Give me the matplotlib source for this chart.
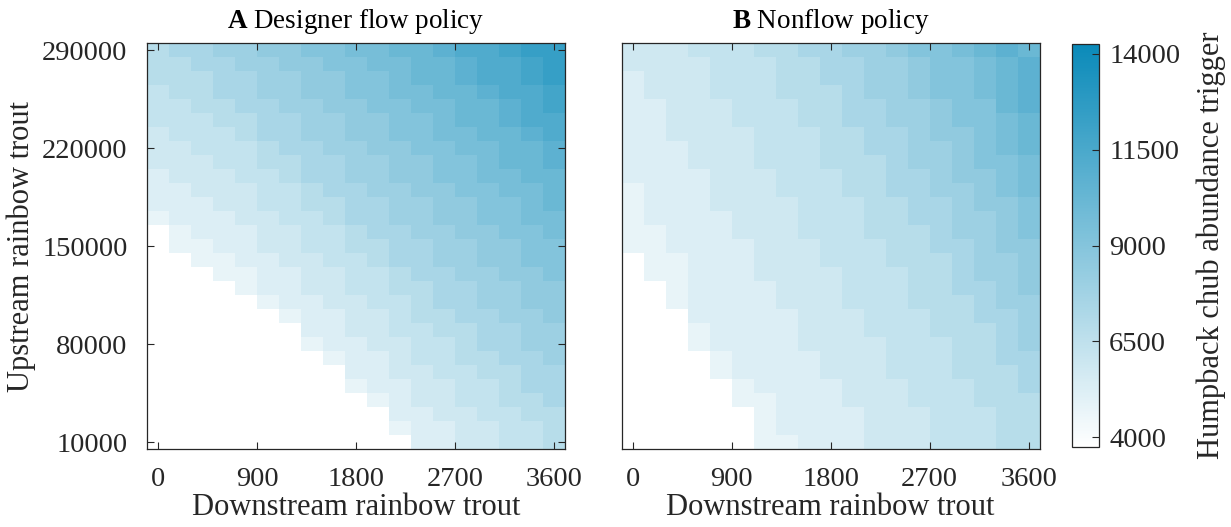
import numpy as np
import matplotlib.pyplot as plt
from matplotlib.colors import LinearSegmentedColormap

plt.rcParams['font.family'] = 'Liberation Serif'
plt.rcParams['mathtext.fontset'] = 'custom'
plt.rcParams['mathtext.rm'] = 'Liberation Serif'
plt.rcParams['mathtext.bf'] = 'Liberation Serif:bold'
plt.rcParams['font.size'] = 20.5

# grid of the two heatmaps
downstream = list(range(0, 3601, 200))          # 19 columns
upstream = list(range(290000, 9999, -10000))    # 29 rows, top row first

# trigger value for each colour step (0 = white, no trigger)
trigger_steps = [np.nan, 4750, 5250, 5800, 6300, 6850, 7400, 7950, 8500,
                 9050, 9600, 10150, 10700, 11250, 11800, 12350]

# each column (downstream value) as runs of (step, number of rows) from top to bottom
designer_runs = [
    [(5, 3), (4, 3), (3, 3), (2, 3), (1, 1), (0, 16)],
    [(6, 1), (5, 3), (4, 3), (3, 3), (2, 3), (1, 2), (0, 14)],
    [(6, 2), (5, 3), (4, 3), (3, 3), (2, 3), (1, 2), (0, 13)],
    [(7, 1), (6, 3), (5, 2), (4, 3), (3, 3), (2, 3), (1, 2), (0, 12)],
    [(7, 2), (6, 3), (5, 2), (4, 3), (3, 3), (2, 3), (1, 2), (0, 11)],
    [(8, 1), (7, 3), (6, 3), (5, 2), (4, 3), (3, 3), (2, 3), (1, 1), (0, 10)],
    [(8, 2), (7, 3), (6, 3), (5, 2), (4, 3), (3, 3), (2, 3), (1, 1), (0, 9)],
    [(9, 1), (8, 3), (7, 3), (6, 3), (5, 2), (4, 3), (3, 3), (2, 3), (1, 1), (0, 7)],
    [(9, 2), (8, 3), (7, 3), (6, 3), (5, 2), (4, 3), (3, 3), (2, 3), (1, 1), (0, 6)],
    [(10, 1), (9, 3), (8, 3), (7, 3), (6, 3), (5, 2), (4, 3), (3, 3), (2, 3), (1, 1), (0, 4)],
    [(10, 2), (9, 3), (8, 3), (7, 3), (6, 3), (5, 2), (4, 3), (3, 3), (2, 3), (1, 1), (0, 3)],
    [(11, 1), (10, 3), (9, 3), (8, 3), (7, 3), (6, 3), (5, 2), (4, 3), (3, 3), (2, 3), (1, 1), (0, 1)],
    [(11, 3), (10, 2), (9, 3), (8, 3), (7, 3), (6, 3), (5, 3), (4, 3), (3, 3), (2, 3)],
    [(12, 1), (11, 3), (10, 3), (9, 3), (8, 3), (7, 3), (6, 3), (5, 2), (4, 3), (3, 3), (2, 2)],
    [(13, 1), (12, 2), (11, 3), (10, 2), (9, 3), (8, 3), (7, 3), (6, 3), (5, 3), (4, 3), (3, 3)],
    [(13, 3), (12, 1), (11, 3), (10, 3), (9, 3), (8, 3), (7, 3), (6, 3), (5, 2), (4, 3), (3, 2)],
    [(14, 1), (13, 3), (12, 2), (11, 3), (10, 2), (9, 3), (8, 3), (7, 3), (6, 3), (5, 3), (4, 3)],
    [(15, 1), (14, 2), (13, 3), (12, 1), (11, 3), (10, 3), (9, 3), (8, 3), (7, 3), (6, 3), (5, 2), (4, 2)],
    [(15, 3), (14, 2), (13, 2), (12, 2), (11, 3), (10, 2), (9, 3), (8, 3), (7, 3), (6, 3), (5, 3)],
]

nonflow_runs = [
    [(3, 2), (2, 8), (1, 5), (0, 14)],
    [(3, 4), (2, 9), (1, 4), (0, 12)],
    [(3, 7), (2, 8), (1, 4), (0, 10)],
    [(4, 1), (3, 8), (2, 11), (1, 2), (0, 7)],
    [(4, 4), (3, 8), (2, 10), (1, 2), (0, 5)],
    [(4, 6), (3, 8), (2, 10), (1, 2), (0, 3)],
    [(5, 1), (4, 8), (3, 8), (2, 8), (1, 4)],
    [(5, 4), (4, 7), (3, 8), (2, 9), (1, 1)],
    [(6, 1), (5, 5), (4, 8), (3, 8), (2, 7)],
    [(6, 3), (5, 6), (4, 7), (3, 8), (2, 5)],
    [(7, 1), (6, 5), (5, 5), (4, 8), (3, 7), (2, 3)],
    [(7, 4), (6, 4), (5, 6), (4, 7), (3, 8)],
    [(8, 1), (7, 5), (6, 5), (5, 5), (4, 8), (3, 5)],
    [(9, 1), (8, 3), (7, 5), (6, 4), (5, 6), (4, 7), (3, 3)],
    [(9, 4), (8, 3), (7, 4), (6, 4), (5, 6), (4, 8)],
    [(10, 1), (9, 5), (8, 4), (7, 4), (6, 4), (5, 6), (4, 5)],
    [(11, 1), (10, 3), (9, 5), (8, 3), (7, 5), (6, 3), (5, 6), (4, 3)],
    [(12, 1), (11, 4), (10, 3), (9, 3), (8, 4), (7, 4), (6, 4), (5, 6)],
    [(11, 1), (12, 4), (11, 3), (10, 3), (9, 3), (8, 4), (7, 4), (6, 3), (5, 4)],
]

titles = [r'$\mathbf{A}$ Designer flow policy', r'$\mathbf{B}$ Nonflow policy']
xticks = [0, 900, 1800, 2700, 3600]
yticks = [10000, 80000, 150000, 220000, 290000]
cbar_ticks = [4000, 6500, 9000, 11500, 14000]


def build(runs):
    cols = []
    for col in runs:
        vals = []
        for step, n in col:
            vals += [trigger_steps[step]] * n
        cols.append(vals)
    return np.ma.masked_invalid(np.array(cols).T)


cmap = LinearSegmentedColormap.from_list('chub', ['#ffffff', '#0a8ab9'])
cmap.set_bad('white')
axcol = '#262626'
label_size = 22

fig = plt.figure(figsize=(12.31, 5.27), dpi=100)
ax1 = fig.add_axes([0.1194, 0.148, 0.3396, 0.7704])
ax2 = fig.add_axes([0.5049, 0.148, 0.3396, 0.7704])
cax = fig.add_axes([0.8708, 0.1518, 0.0223, 0.7647])

for ax, runs, title in zip([ax1, ax2], [designer_runs, nonflow_runs], titles):
    mesh = ax.pcolormesh(downstream, upstream, build(runs), shading='nearest',
                         cmap=cmap, vmin=3740, vmax=14260, linewidth=0)
    ax.set_xlim(-100, 3700)
    ax.set_ylim(5000, 295000)
    ax.set_xticks(xticks)
    ax.set_xticklabels([str(t) for t in xticks])
    ax.set_xlabel('Downstream rainbow trout', color=axcol, fontsize=label_size,
                  labelpad=1)
    ax.set_title(title, color='black', fontsize=19.5, pad=11)
    for s in ax.spines.values():
        s.set_color(axcol)
        s.set_linewidth(0.9)
    ax.tick_params(axis='x', direction='in', length=5, width=0.8, top=True,
                   colors=axcol, pad=13)

ax1.set_yticks(yticks)
ax1.set_yticklabels([str(t) for t in yticks])
ax1.tick_params(axis='y', direction='in', length=5, width=0.8, right=True,
                colors=axcol, pad=14)
ax1.set_ylabel('Upstream rainbow trout', color=axcol, fontsize=label_size,
               labelpad=4)
ax2.tick_params(axis='y', left=False, labelleft=False)

cb = fig.colorbar(mesh, cax=cax, ticks=cbar_ticks)
cb.outline.set_edgecolor(axcol)
cb.outline.set_linewidth(0.9)
cax.tick_params(direction='in', length=5, width=0.8, colors=axcol, pad=7)
cb.set_label('Humpback chub abundance trigger', color=axcol,
             fontsize=label_size, labelpad=12)

fig.savefig('out.png', dpi=100)
